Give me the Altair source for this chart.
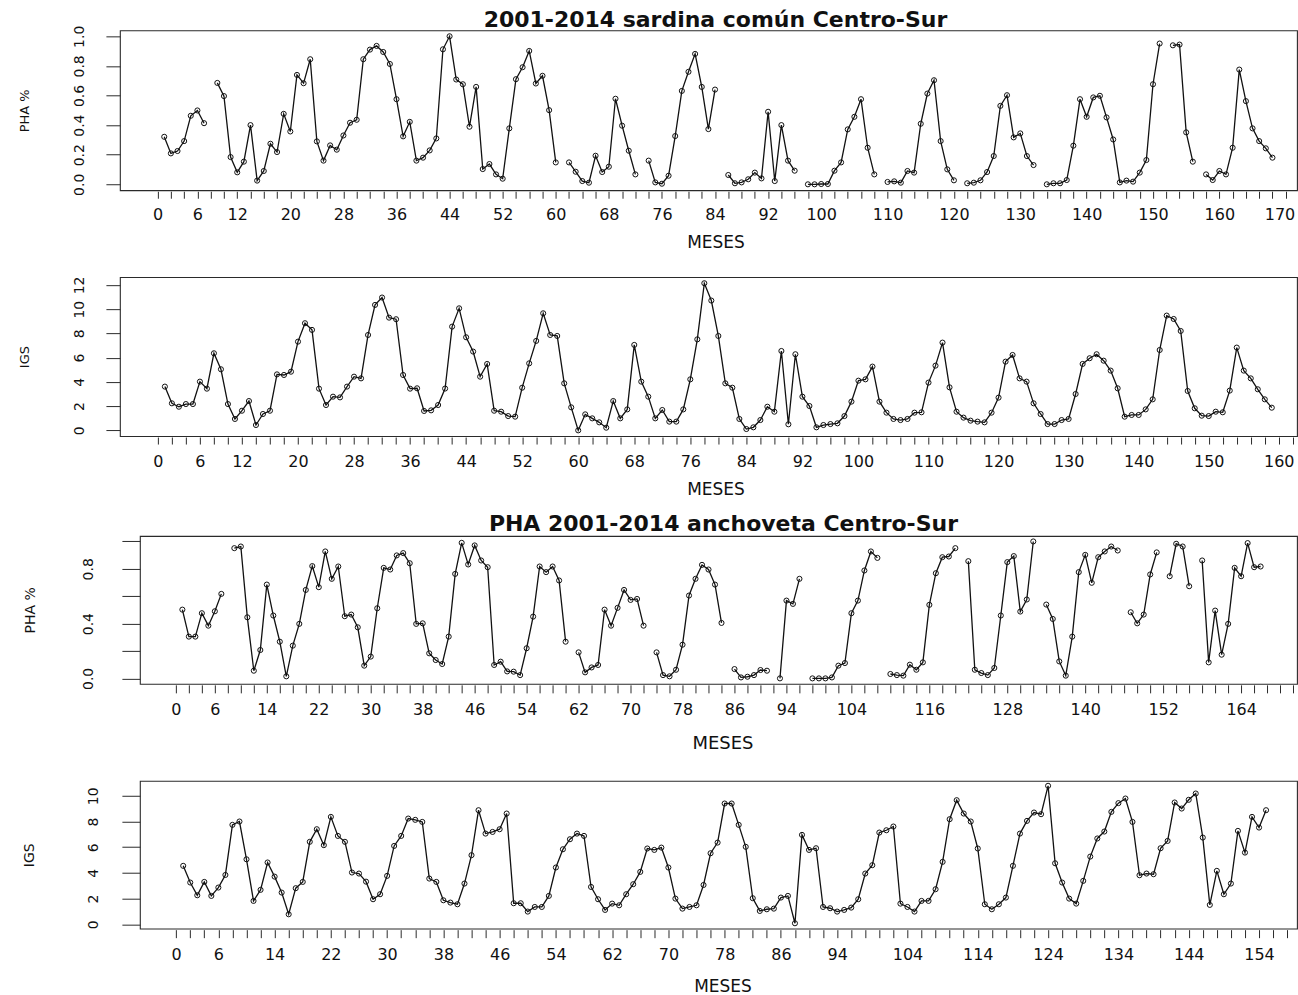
import altair as alt
import pandas as pd

N = None

# ---- data (month index starts at 1; None = missing month) ----
pha_sardina = [
    0.321, 0.209, 0.225, 0.292, 0.463, 0.499, 0.413, N, 0.685, 0.596,
    0.184, 0.081, 0.153, 0.400, 0.025, 0.090, 0.274, 0.218, 0.476, 0.357,
    0.739, 0.683, 0.845, 0.290, 0.160, 0.263, 0.234, 0.330, 0.416, 0.436,
    0.845, 0.910, 0.935, 0.894, 0.813, 0.575, 0.324, 0.422, 0.160, 0.180,
    0.229, 0.310, 0.912, 1.000, 0.708, 0.676, 0.389, 0.658, 0.103, 0.137,
    0.067, 0.038, 0.378, 0.710, 0.791, 0.901, 0.681, 0.733, 0.501, 0.148,
    N, 0.148, 0.085, 0.022, 0.011, 0.193, 0.083, 0.119, 0.578, 0.396,
    0.227, 0.067, N, 0.160, 0.013, 0.004, 0.058, 0.326, 0.631, 0.760,
    0.881, 0.658, 0.373, 0.640, N, 0.063, 0.007, 0.013, 0.034, 0.079,
    0.040, 0.490, 0.022, 0.400, 0.160, 0.092, N, 0.000, 0.000, 0.002,
    0.002, 0.092, 0.148, 0.371, 0.456, 0.575, 0.247, 0.067, N, 0.016,
    0.020, 0.011, 0.090, 0.079, 0.409, 0.613, 0.703, 0.292, 0.101, 0.027,
    N, 0.007, 0.011, 0.027, 0.083, 0.191, 0.530, 0.602, 0.317, 0.344,
    0.191, 0.130, N, 0.000, 0.007, 0.007, 0.029, 0.261, 0.575, 0.456,
    0.587, 0.598, 0.452, 0.303, 0.013, 0.025, 0.018, 0.079, 0.164, 0.676,
    0.951, N, 0.939, 0.944, 0.351, 0.153, N, 0.067, 0.029, 0.090,
    0.067, 0.247, 0.775, 0.562, 0.378, 0.292, 0.243, 0.180,
]

igs_sardina = [
    3.61, 2.23, 1.95, 2.17, 2.17, 4.02, 3.44, 6.36, 5.04, 2.17,
    0.94, 1.62, 2.42, 0.44, 1.35, 1.62, 4.62, 4.57, 4.84, 7.32,
    8.84, 8.29, 3.44, 2.09, 2.78, 2.72, 3.61, 4.43, 4.29, 7.87,
    10.35, 10.96, 9.30, 9.17, 4.57, 3.44, 3.47, 1.60, 1.65, 2.09,
    3.45, 8.56, 10.07, 7.68, 6.50, 4.43, 5.48, 1.62, 1.54, 1.18,
    1.13, 3.52, 5.53, 7.38, 9.66, 7.87, 7.79, 3.88, 1.90, 0.00,
    1.32, 0.99, 0.66, 0.22, 2.42, 0.99, 1.73, 7.05, 4.02, 2.78,
    0.99, 1.68, 0.72, 0.72, 1.73, 4.21, 7.51, 12.14, 10.71, 7.79,
    3.88, 3.52, 0.94, 0.11, 0.25, 0.85, 1.95, 1.54, 6.55, 0.50,
    6.28, 2.78, 2.01, 0.25, 0.44, 0.52, 0.58, 1.18, 2.37, 4.10,
    4.21, 5.26, 2.37, 1.46, 0.94, 0.85, 0.94, 1.46, 1.49, 3.94,
    5.34, 7.24, 3.55, 1.54, 1.05, 0.80, 0.72, 0.66, 1.46, 2.70,
    5.67, 6.22, 4.29, 4.02, 2.23, 1.35, 0.52, 0.52, 0.85, 0.94,
    3.00, 5.48, 5.95, 6.28, 5.75, 4.93, 3.47, 1.13, 1.27, 1.27,
    1.73, 2.56, 6.63, 9.47, 9.19, 8.20, 3.25, 1.82, 1.21, 1.18,
    1.54, 1.49, 3.28, 6.83, 4.93, 4.29, 3.39, 2.56, 1.87,
]

pha_anchoveta = [
    0.502, 0.305, 0.305, 0.476, 0.385, 0.490, 0.617, N, 0.951, 0.963,
    0.446, 0.056, 0.207, 0.685, 0.459, 0.268, 0.015, 0.239, 0.398, 0.646,
    0.820, 0.666, 0.927, 0.727, 0.817, 0.454, 0.466, 0.373, 0.093, 0.159,
    0.512, 0.807, 0.795, 0.898, 0.915, 0.841, 0.398, 0.402, 0.183, 0.134,
    0.105, 0.305, 0.763, 0.990, 0.832, 0.971, 0.861, 0.812, 0.098, 0.122,
    0.051, 0.049, 0.024, 0.220, 0.451, 0.817, 0.776, 0.817, 0.715, 0.268,
    N, 0.190, 0.044, 0.080, 0.098, 0.502, 0.385, 0.515, 0.646, 0.573,
    0.580, 0.385, N, 0.190, 0.024, 0.015, 0.063, 0.246, 0.605, 0.727,
    0.829, 0.795, 0.685, 0.405, N, 0.068, 0.007, 0.012, 0.024, 0.061,
    0.056, N, 0.000, 0.568, 0.544, 0.727, N, 0.000, 0.000, 0.000,
    0.007, 0.093, 0.112, 0.476, 0.568, 0.788, 0.927, 0.880, N, 0.032,
    0.024, 0.020, 0.100, 0.063, 0.117, 0.537, 0.768, 0.885, 0.890, 0.951,
    N, 0.856, 0.063, 0.039, 0.024, 0.076, 0.459, 0.849, 0.893, 0.488,
    0.576, 1.000, N, 0.539, 0.434, 0.124, 0.020, 0.305, 0.776, 0.902,
    0.698, 0.885, 0.927, 0.963, 0.934, N, 0.483, 0.402, 0.466, 0.759,
    0.920, N, 0.746, 0.983, 0.963, 0.673, N, 0.861, 0.117, 0.495,
    0.173, 0.398, 0.807, 0.746, 0.988, 0.812, 0.817,
]

igs_anchoveta = [
    4.55, 3.25, 2.26, 3.30, 2.21, 2.86, 3.84, 7.74, 8.00, 5.06,
    1.82, 2.68, 4.81, 3.71, 2.47, 0.78, 2.81, 3.30, 6.42, 7.40,
    6.16, 8.36, 6.88, 6.42, 4.03, 3.95, 3.32, 1.95, 2.34, 3.77,
    6.10, 6.88, 8.23, 8.13, 7.97, 3.56, 3.30, 1.87, 1.69, 1.56,
    3.17, 5.38, 8.88, 7.06, 7.19, 7.40, 8.62, 1.64, 1.64, 0.99,
    1.35, 1.35, 2.21, 4.42, 5.84, 6.62, 7.06, 6.88, 2.91, 1.95,
    1.12, 1.61, 1.48, 2.34, 3.12, 4.08, 5.90, 5.79, 5.97, 4.42,
    2.00, 1.22, 1.35, 1.48, 3.06, 5.53, 6.36, 9.40, 9.40, 7.74,
    6.03, 2.03, 1.04, 1.17, 1.22, 2.08, 2.21, 0.08, 6.96, 5.79,
    5.92, 1.35, 1.25, 0.99, 1.12, 1.30, 1.95, 3.95, 4.60, 7.14,
    7.32, 7.61, 1.61, 1.35, 0.99, 1.82, 1.82, 2.73, 4.86, 8.18,
    9.66, 8.62, 8.00, 5.90, 1.56, 1.17, 1.56, 2.08, 4.55, 7.06,
    8.05, 8.70, 8.57, 10.78, 4.75, 3.25, 2.00, 1.61, 3.38, 5.27,
    6.68, 7.22, 8.75, 9.43, 9.79, 7.97, 3.82, 3.95, 3.90, 5.92,
    6.49, 9.48, 9.01, 9.69, 10.18, 6.75, 1.51, 4.16, 2.34, 3.17,
    7.27, 5.58, 8.36, 7.53, 8.88,
]

# ---- texts / tick labels ----
title_sardina = "2001-2014 sardina común Centro-Sur"
title_anchoveta = "PHA 2001-2014 anchoveta Centro-Sur"
x_title = "MESES"
y_title_pha = "PHA %"
y_title_igs = "IGS"

x_labels_1 = [0, 6, 12, 20, 28, 36, 44, 52, 60, 68, 76, 84, 92, 100, 110, 120, 130, 140, 150, 160, 170]
x_labels_2 = [0, 6, 12, 20, 28, 36, 44, 52, 60, 68, 76, 84, 92, 100, 110, 120, 130, 140, 150, 160]
x_labels_3 = [0, 6, 14, 22, 30, 38, 46, 54, 62, 70, 78, 86, 94, 104, 116, 128, 140, 152, 164]
x_labels_4 = [0, 6, 14, 22, 30, 38, 46, 54, 62, 70, 78, 86, 94, 104, 114, 124, 134, 144, 154]

y_ticks_pha = [0, 0.2, 0.4, 0.6, 0.8, 1.0]
y_labels_pha_1 = [0, 0.2, 0.4, 0.6, 0.8, 1.0]
y_labels_pha_3 = [0, 0.4, 0.8]
y_ticks_igs_2 = [0, 2, 4, 6, 8, 10, 12]
y_ticks_igs_4 = [0, 2, 4, 6, 8, 10]

FONT = "DejaVu Sans"
INK = "#111111"
FRAME = "#2a2a2a"
PAD_LEFT = 17


def to_frame(values):
    rows = []
    seg = 0
    for i, v in enumerate(values, start=1):
        if v is None:
            seg += 1
            continue
        rows.append({"mes": i, "val": v, "seg": seg})
    return pd.DataFrame(rows)


def panel(values, ytitle, ydom, yticks, ylabs, yfmt, xdom, xmaxtick, xlabs,
          left, w, h, lab_fs, ytick_size, ylab_pad, ytitle_fs, ytitle_center,
          xtick_size, xlab_pad, mes_fs, mes_x, mes_y, title=None, title_fs=19,
          title_offset=0, title_dx=0, flush=None, ylab_fs=14):
    df = to_frame(values)
    xl = ",".join(str(v) for v in xlabs)
    yl = ",".join(str(v) for v in ylabs)
    ytitle_x = ytitle_center + 0.365 * ytitle_fs - left
    x_kwargs = dict(
        values=list(range(0, xmaxtick + 1, 2)),
        labelExpr=f"indexof([{xl}], datum.value) >= 0 ? datum.label : ''",
        format="d",
        domain=False, grid=False, offset=1,
        tickSize=xtick_size, tickWidth=1, tickColor=FRAME,
        labelFont=FONT, labelFontSize=lab_fs, labelColor=INK,
        labelPadding=xlab_pad, labelOverlap=False,
        title=x_title, titleFont=FONT, titleFontSize=mes_fs,
        titleFontWeight="normal", titleColor=INK,
        titleX=mes_x, titleY=mes_y, titleAlign="center",
        titleBaseline="alphabetic",
    )
    if flush is not None:
        x_kwargs["labelFlush"] = flush
        x_kwargs["labelFlushOffset"] = 9
    else:
        x_kwargs["labelFlush"] = False
    x_axis = alt.Axis(**x_kwargs)
    y_axis = alt.Axis(
        values=yticks,
        labelExpr=f"indexof([{yl}], datum.value) >= 0 ? datum.label : ''",
        format=yfmt,
        domain=False, grid=False,
        tickSize=ytick_size, tickWidth=1, tickColor=FRAME,
        labelFont=FONT, labelFontSize=ylab_fs, labelColor=INK,
        labelAngle=270, labelAlign="center", labelBaseline="alphabetic",
        labelPadding=ylab_pad, labelOverlap=False,
        title=ytitle, titleFont=FONT, titleFontSize=ytitle_fs,
        titleFontWeight="normal", titleColor=INK,
        titleAngle=270, titleAlign="center", titleBaseline="alphabetic",
        titleX=ytitle_x, titleY=h / 2,
    )
    x = alt.X("mes:Q", scale=alt.Scale(domain=xdom, nice=False, zero=False), axis=x_axis)
    y = alt.Y("val:Q", scale=alt.Scale(domain=ydom, nice=False, zero=False), axis=y_axis)
    base = alt.Chart(df)
    line = base.mark_line(color=INK, strokeWidth=1.3).encode(x=x, y=y, detail="seg:N")
    pts = base.mark_point(shape="circle", filled=False, size=26, color=INK,
                          strokeWidth=1, opacity=1).encode(x=x, y=y)
    ch = alt.layer(line, pts).properties(width=w, height=h)
    if title:
        ch = ch.properties(title=alt.TitleParams(
            text=title, font=FONT, fontSize=title_fs, fontWeight="bold",
            color=INK, anchor="middle", frame="group", offset=title_offset,
            dx=title_dx, baseline="alphabetic"))
    return ch


p1 = panel(pha_sardina, y_title_pha, [-0.04, 1.04], y_ticks_pha, y_labels_pha_1, ".1f",
           [-5.68, 171.7], 170, x_labels_1, left=119, w=1178, h=160, lab_fs=16,
           ytick_size=14, ylab_pad=22, ytitle_fs=13, ytitle_center=22.5,
           xtick_size=7, xlab_pad=8, mes_fs=17, mes_x=596, mes_y=56,
           title=title_sardina, title_fs=22, title_offset=-24, title_dx=7, flush=15)
p2 = panel(igs_sardina, y_title_igs, [-0.47, 12.64], y_ticks_igs_2, y_ticks_igs_2, "d",
           [-5.42, 162.6], 162, x_labels_2, left=119, w=1178, h=159, lab_fs=16,
           ytick_size=14, ylab_pad=22, ytitle_fs=13, ytitle_center=22.5,
           xtick_size=7, xlab_pad=9, mes_fs=17, mes_x=596, mes_y=57)
p3 = panel(pha_anchoveta, y_title_pha, [-0.04, 1.04], y_ticks_pha, y_labels_pha_3, ".1f",
           [-5.54, 172.6], 172, x_labels_3, left=139, w=1158, h=148, lab_fs=16,
           ytick_size=18, ylab_pad=29, ytitle_fs=14, ytitle_center=28,
           xtick_size=8, xlab_pad=9, mes_fs=18, mes_x=583, mes_y=64,
           title=title_anchoveta, title_fs=22, title_offset=-17, title_dx=5)
p4 = panel(igs_anchoveta, y_title_igs, [-0.34, 11.17], y_ticks_igs_4, y_ticks_igs_4, "d",
           [-5.16, 159.4], 158, x_labels_4, left=139, w=1158, h=148, lab_fs=16,
           ytick_size=18, ylab_pad=24, ytitle_fs=14, ytitle_center=27,
           xtick_size=8, xlab_pad=9, mes_fs=17, mes_x=583, mes_y=62)

# invisible 1px spacer that shifts the anchoveta panels 20px to the right
spacer = alt.Chart(pd.DataFrame({"v": [0]})).mark_point(opacity=0, size=1).encode(
    x=alt.X("v:Q", axis=None), y=alt.Y("v:Q", axis=None)
).properties(width=1, height=1, view=alt.ViewBackground(stroke="transparent"))

top = alt.vconcat(p1, p2, spacing=24)
bottom = alt.hconcat(spacer, alt.vconcat(p3, p4, spacing=26), spacing=19, bounds="flush")

chart = alt.vconcat(top, bottom, spacing=14).properties(
    padding={"left": PAD_LEFT, "top": 8, "right": 0, "bottom": 0},
    background="white",
).configure_view(stroke=FRAME, strokeWidth=1.1)

chart.save("out.html", embed_options={"renderer": "svg", "actions": False})
